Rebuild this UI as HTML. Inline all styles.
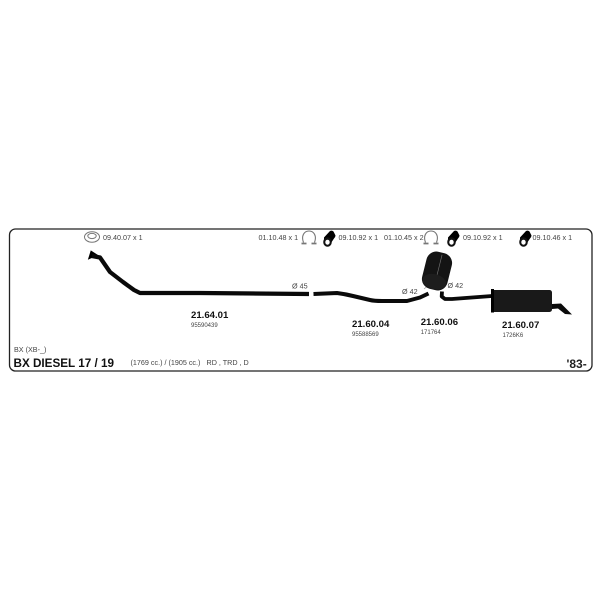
<!DOCTYPE html>
<html><head><meta charset="utf-8"><style>
html,body{margin:0;padding:0;background:#fff}
svg{display:block;filter:blur(.3px)}
text{font-family:"Liberation Sans",sans-serif;fill:#333}
.b{font-weight:bold;font-size:9.6px;fill:#111}
.s{font-size:6px;fill:#444}
.l{font-size:7.2px;fill:#444}
</style></head><body>
<svg width="600" height="600" viewBox="0 0 600 600" xmlns="http://www.w3.org/2000/svg">
<defs>
<g id="clamp"><path d="M-5.500 5.500 C-8 -1 -5 -6 0 -6 C5 -6 8 -1 5.500 5.500" fill="none" stroke="#777" stroke-width="1.100"/><path d="M-7.500 6.500 H-2.500 M2.500 6.500 H7.500" stroke="#777" stroke-width="1.800"/></g>
<g id="gask"><path d="M-5 -1 L1 -7.500 Q3 -8.500 4.500 -7 L6.500 -3 Q6.500 -1.500 5 0 L1 6 L-5 4 Z" fill="#000"/><ellipse cx="-1.500" cy="3.500" rx="4.300" ry="4.800" fill="#111"/><ellipse cx="-1.500" cy="3.700" rx="2.200" ry="2.500" fill="#fff"/></g>
</defs>
<rect x="9.500" y="229" width="582.500" height="142" rx="6" fill="#fff" stroke="#222" stroke-width="1.300"/>

<ellipse cx="92" cy="237" rx="7.500" ry="5.200" fill="none" stroke="#777" stroke-width="1"/>
<ellipse cx="92" cy="236" rx="4.200" ry="2.600" fill="none" stroke="#777" stroke-width="1"/>
<text x="103" y="240" class="l">09.40.07 x 1</text>

<text x="258.500" y="240" class="l">01.10.48 x 1</text>
<use href="#clamp" x="309" y="237"/>
<use href="#gask" x="329" y="238.500"/>
<text x="338.500" y="240" class="l">09.10.92 x 1</text>
<text x="384" y="240" class="l">01.10.45 x 2</text>
<use href="#clamp" x="431" y="237"/>
<use href="#gask" x="453" y="238.500"/>
<text x="463" y="240" class="l">09.10.92 x 1</text>
<use href="#gask" x="525" y="238.500"/>
<text x="532.500" y="240" class="l">09.10.46 x 1</text>

<!-- pipe 1 -->
<path d="M88.500 259 L91 251 L98 255.500 L93 257 Z" fill="#000" stroke="#000" stroke-width=".8"/>
<path d="M92 256 L100 257.500 L110 272 L123 282 L134 290 L140 293 L200 293 L309 294" fill="none" stroke="#0a0a0a" stroke-width="4.200" stroke-linejoin="round"/>
<text x="292" y="288.500" class="l">Ø 45</text>

<!-- pipe 2 -->
<path d="M313.500 294 L337 293 Q345 294 353 296 L370 300 Q374 301 382 301 L407 301 L420 297.500 L428.500 293.500" fill="none" stroke="#0a0a0a" stroke-width="4" stroke-linejoin="round"/>
<text x="402" y="294" class="l">Ø 42</text>
<path d="M424 289 L427 286.500" stroke="#999" stroke-width=".8"/>

<!-- canister -->
<g transform="rotate(14 437 271)">
<rect x="424" y="252" width="26" height="38" rx="10" fill="#141414"/>
<path d="M438 254 V284" stroke="#777" stroke-width="0.600"/>
<ellipse cx="437" cy="282" rx="12" ry="7.500" fill="#1d1d1d"/>
</g>
<text x="447.500" y="288" class="l">Ø 42</text>

<!-- pipe 3 + muffler -->
<path d="M442 291.500 L441.700 296.500 L445 299 L452 299 L492 296" fill="none" stroke="#0a0a0a" stroke-width="3.800" stroke-linejoin="round"/>
<rect x="491" y="290" width="61" height="22" rx="2.500" fill="#191919"/>
<path d="M491 289 L494 289 L494 312.500 L491 312.500 Z" fill="#000"/>
<path d="M552 304 L561 303.500 L572 314.500 L565 314 L558 308.500 L552 309 Z" fill="#0a0a0a"/>

<text x="191" y="318" class="b">21.64.01</text>
<text x="191" y="327" class="s">95590439</text>
<text x="352" y="327" class="b">21.60.04</text>
<text x="352" y="336" class="s">95588569</text>
<text x="420.700" y="325" class="b">21.60.06</text>
<text x="420.700" y="334" class="s">171764</text>
<text x="502" y="328" class="b">21.60.07</text>
<text x="502.500" y="337" class="s">1726K6</text>

<text x="14" y="352" class="l">BX (XB-_)</text>
<text x="13.500" y="367" style="font-weight:bold;font-size:11.700px;fill:#111">BX DIESEL 17 / 19</text>
<text x="130.500" y="365" class="l">(1769 cc.) / (1905 cc.)</text>
<text x="206.500" y="365" class="l">RD , TRD , D</text>
<text x="566.500" y="368" style="font-weight:bold;font-size:12px;fill:#222">'83-</text>
</svg>
</body></html>
